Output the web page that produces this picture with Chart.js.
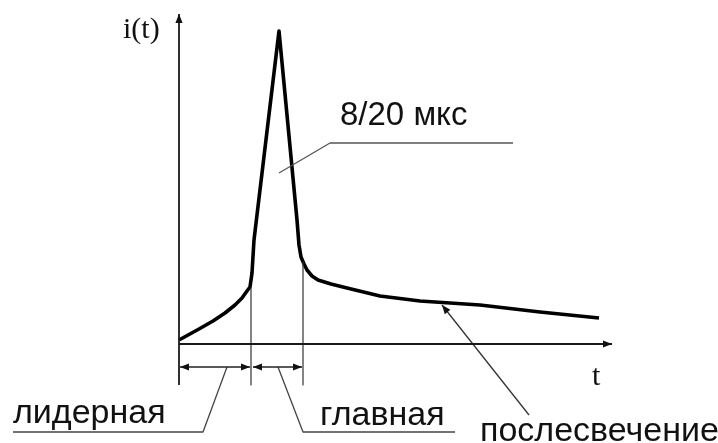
<!DOCTYPE html>
<html>
<head>
<meta charset="utf-8">
<script src="https://cdn.jsdelivr.net/npm/chart.js@4/dist/chart.umd.min.js"></script>
<style>
  html, body { margin: 0; padding: 0; background: #ffffff; }
  #c { display: block; }
</style>
</head>
<body>
<canvas id="c" width="718" height="443"></canvas>
<script>
// ---- data (time t and current i, in diagram units) ----
const curveT = [0, 2.0, 3.4, 4.6, 5.6, 6.3, 6.8, 7.1, 7.3, 7.5, 10.0, 11.8, 12.0, 12.2, 12.5, 12.8, 13.3, 13.9, 15.2, 16.8, 20.1, 24.1, 30.1, 36.1, 42.0];
const curveI = [0.4, 1.5, 2.3, 3.1, 3.9, 4.6, 5.3, 5.7, 7.1, 10.4, 31.3, 12.4, 9.9, 8.7, 8.0, 7.4, 6.8, 6.4, 6.0, 5.6, 4.8, 4.3, 3.9, 3.2, 2.6];

// phase boundaries (leader end, main end) and the levels where marker lines start
const phaseT = [0, 7.2, 12.4];
const phaseTopI = [33.0, 5.6, 8.2];
const markerBottomI = -4.1;
const dimI = -2.3;
const axisTipT = 43.3;
const axisTipI = 33.0;

// leader (callout) polylines
const leaderLeaderT = [4.8, 2.4, -16.6];
const leaderLeaderI = [-2.3, -8.8, -8.8];
const leaderMainT = [9.9, 12.4, 27.6];
const leaderMainI = [-2.3, -8.8, -8.8];
const leaderPulseT = [10.0, 15.1, 33.4];
const leaderPulseI = [17.1, 20.1, 20.1];
const leaderAfterT = [35.0, 26.3];
const leaderAfterI = [-7.1, 3.9];

// text labels
const labelTexts = ["i(t)", "t", "8/20 мкс", "лидерная", "главная", "послесвечение"];
const labelT = [-5.6, 41.3, 16.1, -16.6, 14.1, 30.1];
const labelI = [30.6, -4.1, 21.9, -7.9, -8.1, -9.7];
const labelFonts = ["30px 'Liberation Serif'", "30px 'Liberation Serif'", "33px 'Liberation Sans'",
                    "34px 'Liberation Sans'", "34px 'Liberation Sans'", "34px 'Liberation Sans'"];

// ---- build datasets ----
function pts(ts, is) { return ts.map((t, k) => ({ x: t, y: is[k] })); }
function seg(data, color, width) {
  return { data, showLine: true, borderColor: color, borderWidth: width, pointRadius: 0, fill: false, tension: 0,
           borderJoinStyle: 'round', borderCapStyle: 'butt' };
}

const datasets = [];
// axes
datasets.push(seg([{ x: 0, y: markerBottomI }, { x: 0, y: axisTipI }], '#1a1a1a', 1.8));
datasets.push(seg([{ x: 0, y: 0 }, { x: axisTipT, y: 0 }], '#1a1a1a', 1.8));
// phase marker verticals
for (let k = 1; k < phaseT.length; k++) {
  datasets.push(seg([{ x: phaseT[k], y: phaseTopI[k] }, { x: phaseT[k], y: markerBottomI }], '#333', 1.2));
}
// dimension lines
datasets.push(seg([{ x: phaseT[0] + 0.1, y: dimI }, { x: phaseT[1] - 0.1, y: dimI }], '#222', 1.3));
datasets.push(seg([{ x: phaseT[1] + 0.2, y: dimI }, { x: phaseT[2] - 0.1, y: dimI }], '#222', 1.3));
// leaders
datasets.push(seg(pts(leaderLeaderT, leaderLeaderI), '#444', 1.3));
datasets.push(seg(pts(leaderMainT, leaderMainI), '#444', 1.3));
datasets.push(seg(pts(leaderPulseT, leaderPulseI), '#555', 1.3));
datasets.push(seg(pts(leaderAfterT, leaderAfterI), '#333', 1.3));
// the pulse curve
datasets.push(seg(pts(curveT, curveI), '#000', 3.6));

// arrowheads: [fromT, fromI, toT, toI]
const arrows = [
  [0, 0, 0, axisTipI],
  [0, 0, axisTipT, 0],
  [phaseT[1], dimI, phaseT[0] + 0.1, dimI],
  [phaseT[0], dimI, phaseT[1] - 0.1, dimI],
  [phaseT[2], dimI, phaseT[1] + 0.2, dimI],
  [phaseT[1], dimI, phaseT[2] - 0.1, dimI],
  [leaderAfterT[0], leaderAfterI[0], leaderAfterT[1], leaderAfterI[1]]
];

const decor = {
  id: 'decor',
  afterDatasetsDraw(chart) {
    const ctx = chart.ctx, xs = chart.scales.x, ys = chart.scales.y;
    ctx.save();
    ctx.fillStyle = '#111';
    arrows.forEach(a => {
      const x0 = xs.getPixelForValue(a[0]), y0 = ys.getPixelForValue(a[1]);
      const x1 = xs.getPixelForValue(a[2]), y1 = ys.getPixelForValue(a[3]);
      const ang = Math.atan2(y1 - y0, x1 - x0);
      const L = 9, W = 3.6;
      ctx.beginPath();
      ctx.moveTo(x1, y1);
      ctx.lineTo(x1 - L * Math.cos(ang) - W * Math.sin(ang), y1 - L * Math.sin(ang) + W * Math.cos(ang));
      ctx.lineTo(x1 - L * Math.cos(ang) + W * Math.sin(ang), y1 - L * Math.sin(ang) - W * Math.cos(ang));
      ctx.closePath();
      ctx.fill();
    });
    ctx.textBaseline = 'alphabetic';
    ctx.textAlign = 'left';
    labelTexts.forEach((txt, k) => {
      ctx.font = labelFonts[k];
      ctx.fillStyle = '#111';
      ctx.fillText(txt, xs.getPixelForValue(labelT[k]), ys.getPixelForValue(labelI[k]));
    });
    ctx.restore();
  }
};

new Chart(document.getElementById('c'), {
  type: 'scatter',
  data: { datasets },
  options: {
    responsive: false,
    animation: false,
    devicePixelRatio: 1,
    layout: { padding: 0 },
    plugins: { legend: { display: false }, tooltip: { enabled: false } },
    scales: {
      x: { type: 'linear', display: false, min: -17.9, max: 53.9 },
      y: { type: 'linear', display: false, min: -9.9, max: 34.4 }
    }
  },
  plugins: [decor]
});
</script>
</body>
</html>
